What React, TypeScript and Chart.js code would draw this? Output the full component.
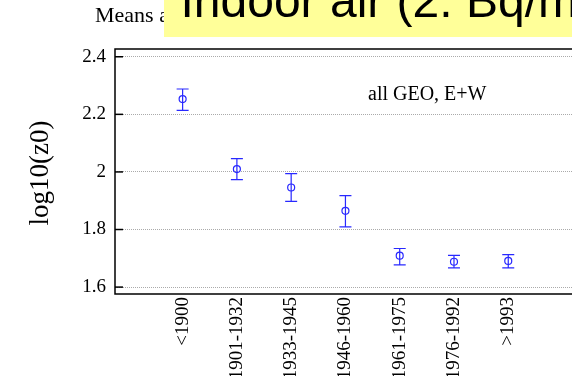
import React, { useEffect, useRef } from 'react';
import { Chart, registerables } from 'chart.js';
Chart.register(...registerables);

const categories = ['<1900', '1901-1932', '1933-1945', '1946-1960', '1961-1975', '1976-1992', '>1993'];
const means = [2.253, 2.010, 1.946, 1.865, 1.709, 1.688, 1.691];
const upper = [2.288, 2.046, 1.994, 1.918, 1.734, 1.710, 1.713];
const lower = [2.214, 1.973, 1.898, 1.809, 1.677, 1.667, 1.667];
const yTicks = [1.6, 1.8, 2.0, 2.2, 2.4];

const titleText = 'Means and';
const overlayText = 'Indoor air (2. Bq/m³)';
const yTitle = 'log10(z0)';
const annotation = 'all GEO, E+W';

const SERIF = '"Liberation Serif", "Times New Roman", serif';
const SANS = '"Liberation Sans", Arial, sans-serif';
const BLUE = 'rgb(40,40,255)';

export default function App() {
  const ref = useRef<HTMLCanvasElement>(null);
  useEffect(() => {
    const canvas = ref.current!;
    const framePlugin = {
      id: 'frame',
      beforeDatasetsDraw(chart: any) {
        const { ctx } = chart;
        const xs = chart.scales.x;
        const ys = chart.scales.y;
        ctx.save();
        ctx.strokeStyle = BLUE;
        ctx.lineWidth = 1.2;
        for (let i = 0; i < means.length; i++) {
          const x = xs.getPixelForValue(i);
          const yt = ys.getPixelForValue(upper[i]);
          const yb = ys.getPixelForValue(lower[i]);
          ctx.beginPath();
          ctx.moveTo(x, yt);
          ctx.lineTo(x, yb);
          ctx.moveTo(x - 6, yt);
          ctx.lineTo(x + 6, yt);
          ctx.moveTo(x - 6, yb);
          ctx.lineTo(x + 6, yb);
          ctx.stroke();
        }
        ctx.restore();
      },
      afterDraw(chart: any) {
        const { ctx, chartArea } = chart;
        const ys = chart.scales.y;
        const { left, top, bottom, right } = chartArea;
        ctx.save();
        ctx.strokeStyle = '#000';
        ctx.lineWidth = 1.5;
        ctx.beginPath();
        ctx.moveTo(right, top);
        ctx.lineTo(left, top);
        ctx.lineTo(left, bottom);
        ctx.lineTo(right, bottom);
        ctx.stroke();
        for (const v of yTicks) {
          const y = ys.getPixelForValue(v);
          ctx.beginPath();
          ctx.moveTo(left, y);
          ctx.lineTo(left + 8, y);
          ctx.stroke();
        }
        // annotation
        ctx.fillStyle = '#000';
        ctx.font = `20px ${SERIF}`;
        ctx.textAlign = 'left';
        ctx.textBaseline = 'alphabetic';
        ctx.fillText(annotation, 368, 100);
        // y title
        ctx.save();
        ctx.translate(48, 173);
        ctx.rotate(-Math.PI / 2);
        ctx.textAlign = 'center';
        ctx.font = `27px ${SERIF}`;
        ctx.fillText(yTitle, 0, 0);
        ctx.restore();
        // title
        ctx.font = `22px ${SERIF}`;
        ctx.fillText(titleText, 95, 22);
        // overlay box
        ctx.fillStyle = '#ffff99';
        ctx.fillRect(164, 0, 500, 37);
        ctx.fillStyle = '#000';
        ctx.font = `48px ${SANS}`;
        ctx.fillText(overlayText, 180.5, 17);
        ctx.restore();
      },
    };
    const chart = new Chart(canvas, {
      type: 'scatter',
      data: {
        datasets: [
          {
            data: means.map((m, i) => ({ x: i, y: m })),
            pointRadius: 3.5,
            pointBorderColor: BLUE,
            pointBackgroundColor: 'rgba(0,0,0,0)',
            pointBorderWidth: 1.2,
            showLine: false,
          },
        ],
      },
      options: {
        responsive: false,
        animation: false,
        devicePixelRatio: 1,
        layout: { padding: { top: 49, left: 0, right: 0, bottom: 0 } },
        plugins: { legend: { display: false }, tooltip: { enabled: false } },
        scales: {
          x: {
            type: 'linear',
            min: -1.246,
            max: 8,
            afterBuildTicks: (s: any) => {
              s.ticks = categories.map((_, i) => ({ value: i }));
            },
            afterFit: (s: any) => {
              s.height = 82;
            },
            grid: { display: false, drawTicks: false },
            border: { display: false },
            ticks: {
              autoSkip: false,
              minRotation: 90,
              maxRotation: 90,
              padding: 3,
              color: '#000',
              font: { family: SERIF, size: 19 },
              callback: (v: any) => categories[v] ?? '',
            },
          },
          y: {
            min: 1.576,
            max: 2.427,
            afterBuildTicks: (s: any) => {
              s.ticks = yTicks.map((v) => ({ value: v }));
            },
            afterFit: (s: any) => {
              s.width = 115;
            },
            grid: { color: '#aaa', lineWidth: 1, drawTicks: false },
            border: { display: false, dash: [1, 1] },
            ticks: {
              padding: 9,
              color: '#000',
              font: { family: SERIF, size: 19 },
              callback: (v: any) => String(Number(v)),
            },
          },
        },
      },
      plugins: [framePlugin],
    });
    return () => chart.destroy();
  }, []);
  return (
    <div style={{ position: 'absolute', left: 0, top: 0, width: 572, height: 376, overflow: 'hidden', background: '#fff' }}>
      <canvas ref={ref} width={622} height={376} style={{ display: 'block' }} />
    </div>
  );
}
